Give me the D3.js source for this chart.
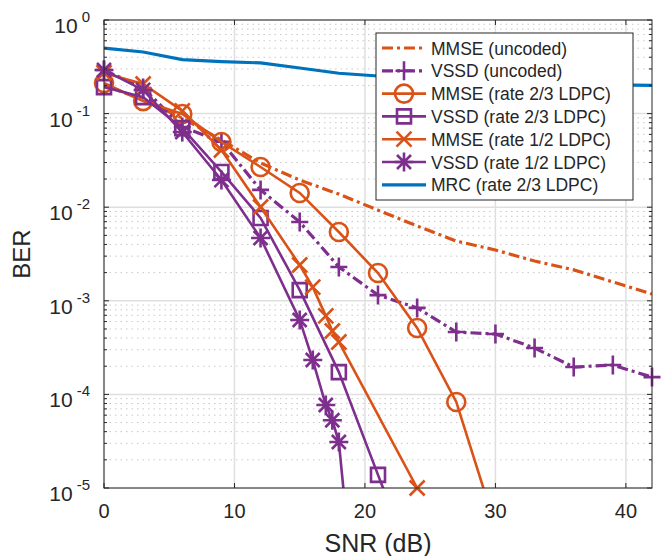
<!DOCTYPE html>
<html>
<head>
<meta charset="utf-8">
<script src="https://cdn.jsdelivr.net/npm/d3@7"></script>
<style>
body { margin: 0; background: #fff; }
text { font-family: "Liberation Sans", Arial, sans-serif; fill: #262626; }
</style>
</head>
<body>
<div id="chart"></div>
<script>
// SNR points (dB)
const snrFull = [0, 3, 6, 9, 12, 15, 18, 21, 24, 27, 30, 33, 36, 39, 42];
const snrMmse23 = [0, 3, 6, 9, 12, 15, 18, 21, 24, 27, 30];
const snrVssd23 = [0, 3, 6, 9, 12, 15, 18, 21, 24];
const snrMmse12 = [0, 3, 6, 9, 12, 15, 16, 17, 17.5, 18, 24];
const snrVssd12 = [0, 3, 6, 9, 12, 15, 16, 17, 17.5, 18, 18.5];

// BER values
const berMmseUncoded = [0.202, 0.14, 0.0897, 0.0522, 0.0297, 0.0195, 0.0138, 0.0093, 0.0063, 0.00435, 0.00349, 0.00266, 0.00214, 0.00159, 0.00118];
const berVssdUncoded = [0.292, 0.188, 0.072, 0.05, 0.0153, 0.00695, 0.0023, 0.00115, 0.00084, 0.000464, 0.000442, 0.000313, 0.000196, 0.000206, 0.000153];
const berMmse23 = [0.212, 0.136, 0.099, 0.0497, 0.0269, 0.0142, 0.00543, 0.00198, 0.000513, 0.000083, 0.0000039];
const berVssd23 = [0.192, 0.15, 0.07, 0.0238, 0.00767, 0.0013, 0.000173, 0.0000138, 0.00000115];
const berMmse12 = [0.272, 0.207, 0.107, 0.0408, 0.01005, 0.00241, 0.0014, 0.00069, 0.000476, 0.000363, 0.00001];
const berVssd12 = [0.292, 0.179, 0.0636, 0.0195, 0.00469, 0.000624, 0.000233, 0.000077, 0.000053, 0.000031, 0.000006];
const berMrc = [0.5, 0.455, 0.378, 0.36, 0.348, 0.307, 0.27, 0.252, 0.24, 0.23, 0.22, 0.215, 0.21, 0.203, 0.2];

const xTicks = [0, 10, 20, 30, 40];
const yExponents = [0, -1, -2, -3, -4, -5];

const orange = "#D95319", purple = "#7E2F8E", blue = "#0072BD";
const dashDot = "11,4,3,4";

const series = [
    { name: "MMSE (uncoded)", x: snrFull, y: berMmseUncoded, color: orange, dash: dashDot, marker: null, w: 3.2 },
    { name: "VSSD (uncoded)", x: snrFull, y: berVssdUncoded, color: purple, dash: dashDot, marker: "plus", w: 3.2 },
    { name: "MMSE (rate 2/3 LDPC)", x: snrMmse23, y: berMmse23, color: orange, dash: null, marker: "circle", w: 2.6 },
    { name: "VSSD (rate 2/3 LDPC)", x: snrVssd23, y: berVssd23, color: purple, dash: null, marker: "square", w: 2.6 },
    { name: "MMSE (rate 1/2 LDPC)", x: snrMmse12, y: berMmse12, color: orange, dash: null, marker: "cross", w: 2.6 },
    { name: "VSSD (rate 1/2 LDPC)", x: snrVssd12, y: berVssd12, color: purple, dash: null, marker: "star", w: 2.6 },
    { name: "MRC (rate 2/3 LDPC)", x: snrFull, y: berMrc, color: blue, dash: null, marker: null, w: 3.2 }
];

const margin = { top: 20, right: 9, bottom: 68, left: 104 },
    width = 661 - margin.left - margin.right,
    height = 556 - margin.top - margin.bottom;

const svg = d3.select("#chart").append("svg")
    .attr("width", 661)
    .attr("height", 556);

const g = svg.append("g")
    .attr("transform", `translate(${margin.left},${margin.top})`);

const x = d3.scaleLinear().domain([0, 42]).range([0, width]);
const y = d3.scaleLog().domain([1e-5, 1]).range([height, 0]);

// minor grid (dotted) on y
const minorVals = [];
for (let e = -5; e < 0; e++) {
    for (let k = 2; k <= 9; k++) minorVals.push(k * Math.pow(10, e));
}
g.append("g").selectAll("line").data(minorVals).enter().append("line")
    .attr("x1", 0).attr("x2", width)
    .attr("y1", d => y(d)).attr("y2", d => y(d))
    .attr("stroke", "#c8c8c8").attr("stroke-width", 1)
    .attr("stroke-dasharray", "1.5,4");

// major grid
g.append("g").selectAll("line").data(yExponents).enter().append("line")
    .attr("x1", 0).attr("x2", width)
    .attr("y1", d => y(Math.pow(10, d))).attr("y2", d => y(Math.pow(10, d)))
    .attr("stroke", "#dfdfdf").attr("stroke-width", 1.5);
g.append("g").selectAll("line").data(xTicks).enter().append("line")
    .attr("x1", d => x(d)).attr("x2", d => x(d))
    .attr("y1", 0).attr("y2", height)
    .attr("stroke", "#dfdfdf").attr("stroke-width", 1.5);

// clip for the lines
svg.append("defs").append("clipPath").attr("id", "plotclip")
    .append("rect").attr("width", width).attr("height", height);

const line = d3.line()
    .x(d => x(d[0]))
    .y(d => y(d[1]));

function markerPath(type) {
    if (type === "plus") return "M-8.5,0H8.5M0,-9.5V9.5";
    if (type === "cross") return "M-7.5,-7.5L7.5,7.5M-7.5,7.5L7.5,-7.5";
    if (type === "star") return "M-9.5,0H9.5M0,-9.5V9.5M-7,-7L7,7M-7,7L7,-7";
    if (type === "square") return "M-7,-7H7V7H-7Z";
    return null;
}

function drawMarker(sel, type, color) {
    if (type === "circle") {
        sel.append("circle").attr("r", 9)
            .attr("fill", "none").attr("stroke", color).attr("stroke-width", 2.6);
    } else {
        sel.append("path").attr("d", markerPath(type))
            .attr("fill", "none").attr("stroke", color).attr("stroke-width", 2.6);
    }
}

series.forEach(s => {
    const pts = s.x.map((v, i) => [v, s.y[i]]);
    g.append("path")
        .datum(pts)
        .attr("clip-path", "url(#plotclip)")
        .attr("fill", "none")
        .attr("stroke", s.color)
        .attr("stroke-width", s.w)
        .attr("stroke-dasharray", s.dash)
        .attr("d", line);
    if (s.marker) {
        pts.filter(p => p[1] >= 1e-5 && p[1] <= 1).forEach(p => {
            const m = g.append("g").attr("transform", `translate(${x(p[0])},${y(p[1])})`);
            drawMarker(m, s.marker, s.color);
        });
    }
});

// axes box and ticks
const axisColor = "#262626";
const axes = g.append("g").attr("stroke", axisColor).attr("fill", "none");
axes.append("rect").attr("width", width).attr("height", height).attr("stroke-width", 1);

xTicks.forEach(t => {
    axes.append("line").attr("x1", x(t)).attr("x2", x(t)).attr("y1", height).attr("y2", height - 5);
    axes.append("line").attr("x1", x(t)).attr("x2", x(t)).attr("y1", 0).attr("y2", 5);
});
yExponents.forEach(e => {
    const yy = y(Math.pow(10, e));
    axes.append("line").attr("x1", 0).attr("x2", 5).attr("y1", yy).attr("y2", yy);
    axes.append("line").attr("x1", width).attr("x2", width - 5).attr("y1", yy).attr("y2", yy);
});
minorVals.forEach(v => {
    axes.append("line").attr("x1", 0).attr("x2", 3).attr("y1", y(v)).attr("y2", y(v));
    axes.append("line").attr("x1", width).attr("x2", width - 3).attr("y1", y(v)).attr("y2", y(v));
});

// tick labels
g.append("g").selectAll("text").data(xTicks).enter().append("text")
    .attr("x", d => x(d))
    .attr("y", height + 30)
    .attr("text-anchor", "middle")
    .style("font-size", "20px")
    .text(d => d);

yExponents.forEach(e => {
    const t = g.append("text")
        .attr("x", -14)
        .attr("y", y(Math.pow(10, e)) + 13)
        .attr("text-anchor", "end")
        .style("font-size", "21px");
    t.append("tspan").text("10");
    t.append("tspan").attr("dx", 4).attr("dy", -11).style("font-size", "15px").text(e);
});

// axis labels
svg.append("text")
    .attr("x", margin.left + width / 2)
    .attr("y", 552)
    .attr("text-anchor", "middle")
    .style("font-size", "25px")
    .text("SNR (dB)");

svg.append("text")
    .attr("transform", `translate(30,${margin.top + height / 2}) rotate(-90)`)
    .attr("text-anchor", "middle")
    .style("font-size", "24px")
    .text("BER");

// legend
const legend = svg.append("g").attr("transform", "translate(376,33)");
legend.append("rect")
    .attr("width", 257).attr("height", 167)
    .attr("fill", "#fff").attr("stroke", axisColor).attr("stroke-width", 1);

series.forEach((s, i) => {
    const ly = 15 + i * 22.8;
    const row = legend.append("g").attr("transform", `translate(0,${ly})`);
    row.append("line")
        .attr("x1", 6).attr("x2", 50)
        .attr("stroke", s.color)
        .attr("stroke-width", s.w)
        .attr("stroke-dasharray", s.dash);
    if (s.marker) {
        drawMarker(row.append("g").attr("transform", "translate(28,0)"), s.marker, s.color);
    }
    row.append("text")
        .attr("x", 55)
        .attr("y", 6.5)
        .style("font-size", "17.5px")
        .text(s.name);
});
</script>
</body>
</html>
